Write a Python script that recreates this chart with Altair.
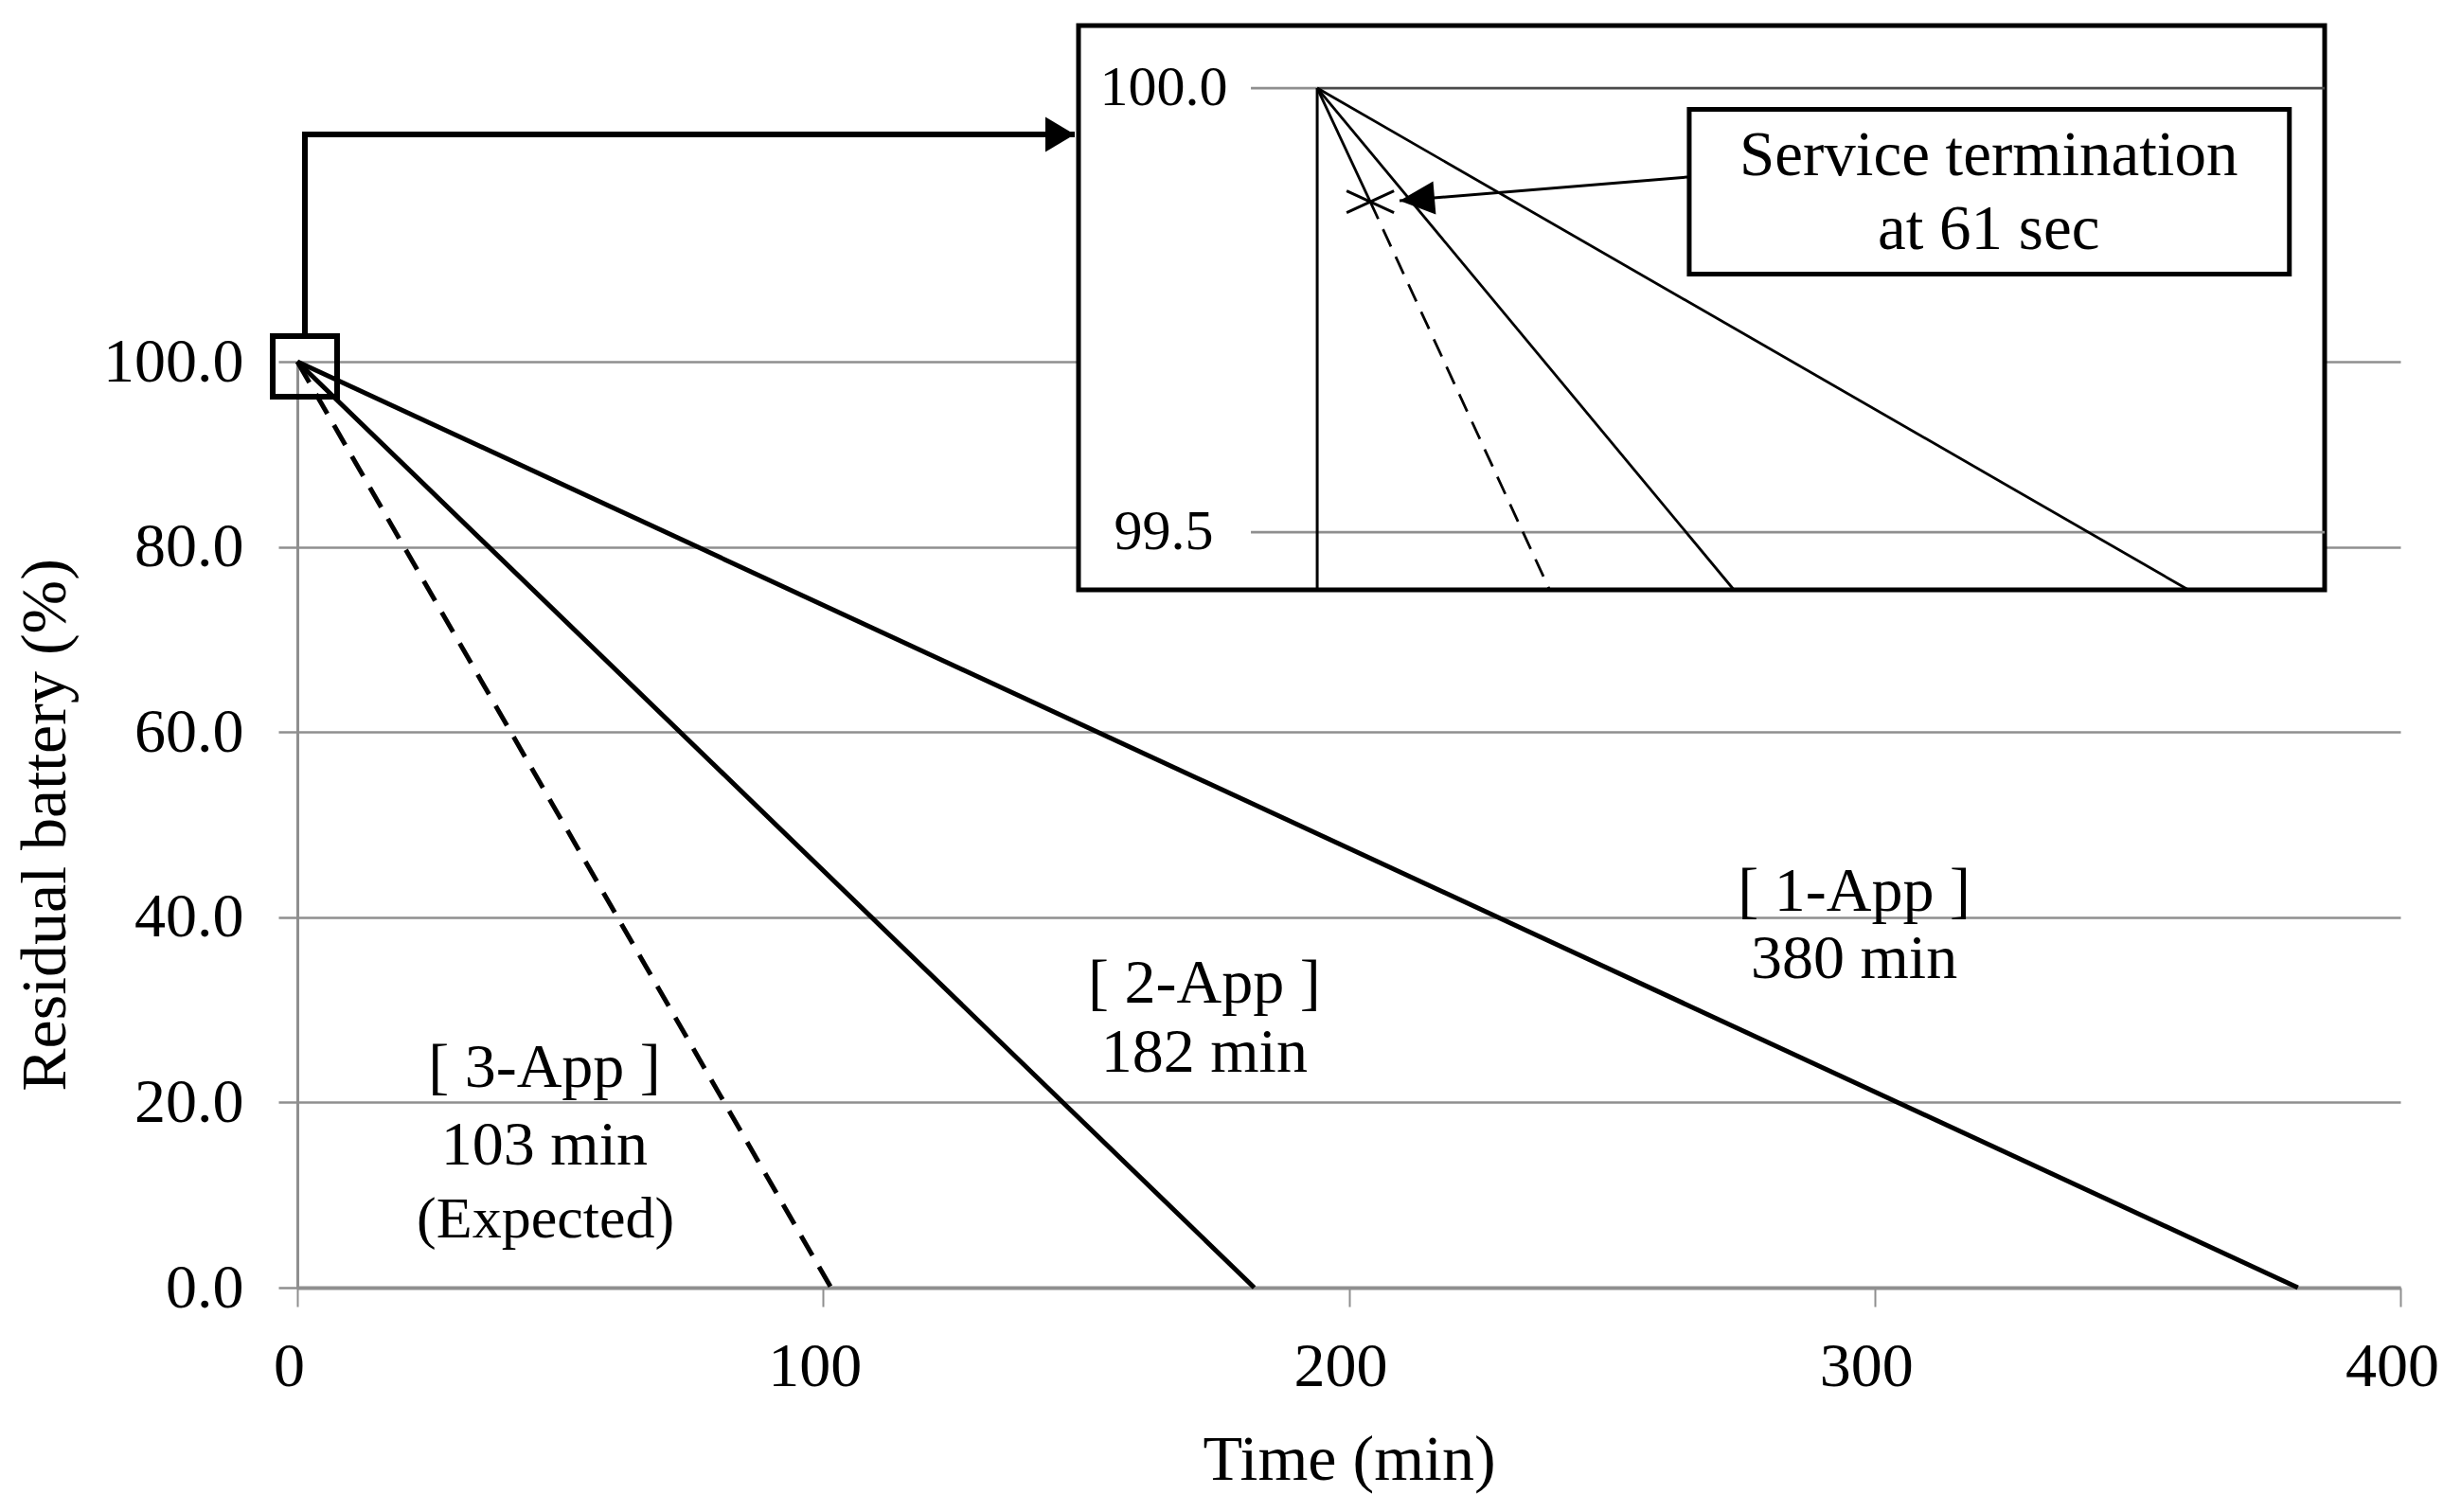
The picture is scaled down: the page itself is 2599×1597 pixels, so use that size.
import altair as alt
import pandas as pd

# ---------------- values ----------------
apps = ["1-App", "2-App", "3-App"]
start_level = 100.0                      # residual battery at t = 0 (%)
end_minutes = [380.5, 182.0, 101.5]      # time at which each curve reaches 0 %
termination_min = 0.131                  # "service termination" mark on 3-App (inset)
termination_level = 99.872
label_titles = ["[ 1-App ]", "[ 2-App ]", "[ 3-App ]"]
label_times = ["380 min", "182 min", "103 min"]
expected_text = "(Expected)"
callout_lines = ["Service termination", "at 61 sec"]
x_ticks = [0, 100, 200, 300, 400]
y_ticks = [0, 20, 40, 60, 80, 100]
inset_ticks = [100.0, 99.5]

# ---------------- layout / style (not data) ----------------
FONT = "Liberation Serif"
GRID = "#8f8f8f"
W, H = 2221, 978
MAIN_X = [0, 400]
MAIN_Y = [0, 100]
INSET_X = [-0.589, 2.486]          # inset view in minutes
INSET_Y = [99.435, 100.0704]       # inset view in %
INSET_XR = [825, 2141]             # pixel range of the inset inside the plot
INSET_YR = [241, -355]

# label anchor positions (data coordinates of the main chart)
label_pos_t = [296.1, 172.5, 47.0]
label_pos_title_v = [40.70, 30.78, 21.68]
label_pos_time_v = [33.44, 23.31, 13.29]
expected_pos = (47.2, 5.42)

# ---------------- tables ----------------
solid_rows, dashed_rows = [], []
for app, T in zip(apps, end_minutes):
    if app == "3-App":
        solid_rows += [dict(s=app, t=0.0, v=start_level),
                       dict(s=app, t=termination_min, v=termination_level)]
        dashed_rows += [dict(s=app, t=termination_min, v=termination_level),
                        dict(s=app, t=T, v=0.0)]
    else:
        solid_rows += [dict(s=app, t=0.0, v=start_level), dict(s=app, t=T, v=0.0)]
main_solid = pd.DataFrame(solid_rows)
main_dashed = pd.DataFrame(dashed_rows)

# inset lines: same series, cut where they leave the inset window
yb = INSET_Y[0]
ins_solid_rows, ins_dashed_rows = [], []
for app, T in zip(apps, end_minutes):
    t_cut = T * (start_level - yb) / start_level
    if app == "3-App":
        ins_solid_rows += [dict(s=app, t=0.0, v=start_level),
                           dict(s=app, t=termination_min, v=termination_level)]
        ins_dashed_rows += [dict(s=app, t=termination_min, v=termination_level),
                            dict(s=app, t=t_cut, v=yb)]
    else:
        ins_solid_rows += [dict(s=app, t=0.0, v=start_level), dict(s=app, t=t_cut, v=yb)]
ins_solid = pd.DataFrame(ins_solid_rows)
ins_dashed = pd.DataFrame(ins_dashed_rows)

labels_big = pd.DataFrame(
    [dict(text=label_titles[i], t=label_pos_t[i], v=label_pos_title_v[i]) for i in range(3)] +
    [dict(text=label_times[i], t=label_pos_t[i], v=label_pos_time_v[i]) for i in range(3)])
labels_small = pd.DataFrame([dict(text=expected_text, t=expected_pos[0], v=expected_pos[1])])

# ---------------- encodings ----------------
x_axis = alt.Axis(values=x_ticks, format="d", title="Time (min)", labelFont=FONT,
                  labelFontSize=66, labelColor="black", labelPadding=31, labelOffset=-9,
                  labelFlush=False, tickSize=20, tickColor=GRID, tickWidth=2,
                  domainColor=GRID, domainWidth=4, grid=False, titleFont=FONT,
                  titleFontSize=68, titleFontWeight="normal", titleColor="black",
                  titleBaseline="alphabetic", titleX=W / 2, titleY=202)
y_axis = alt.Axis(values=y_ticks, format=".1f", title="Residual battery (%)", labelFont=FONT,
                  labelFontSize=66, labelColor="black", labelPadding=37, labelFlush=False,
                  tickSize=20, tickColor=GRID, tickWidth=2.5, domainColor=GRID,
                  domainWidth=3, grid=True, gridColor=GRID, gridWidth=2.5,
                  titleFont=FONT, titleFontSize=68, titleFontWeight="normal",
                  titleColor="black", titleAngle=270, titleAlign="center",
                  titleBaseline="alphabetic", titleX=-246, titleY=H / 2)
mxs = alt.Scale(domain=MAIN_X, nice=False, zero=False)
mys = alt.Scale(domain=MAIN_Y, nice=False, zero=False)


def MX(f="t"):
    return alt.X(f"{f}:Q", scale=mxs, axis=x_axis)


def MY(f="v"):
    return alt.Y(f"{f}:Q", scale=mys, axis=y_axis)


ixs = alt.Scale(domain=INSET_X, range=INSET_XR, nice=False, zero=False)
iys = alt.Scale(domain=INSET_Y, range=INSET_YR, nice=False, zero=False)


def IX(f="t"):
    return alt.X(f"{f}:Q", scale=ixs, axis=None)


def IY(f="v"):
    return alt.Y(f"{f}:Q", scale=iys, axis=None)


# ---------------- main chart ----------------
m_lines = alt.Chart(main_solid).mark_line(color="black", strokeWidth=5).encode(
    x=MX(), y=MY(), detail="s:N")
m_dash = alt.Chart(main_dashed).mark_line(color="black", strokeWidth=5,
                                          strokeDash=[24, 14]).encode(
    x=MX(), y=MY(), detail="s:N")
m_labels = alt.Chart(labels_big).mark_text(font=FONT, fontSize=66, color="black",
                                           align="center", baseline="alphabetic").encode(
    x=MX(), y=MY(), text="text:N")
m_exp = alt.Chart(labels_small).mark_text(font=FONT, fontSize=62, color="black",
                                          align="center", baseline="alphabetic").encode(
    x=MX(), y=MY(), text="text:N")
zoom_box = pd.DataFrame([dict(t=-4.68, t2=7.56, v=96.22, v2=102.76)])
m_box = alt.Chart(zoom_box).mark_rect(fill="white", fillOpacity=0, stroke="black",
                                      strokeWidth=6).encode(
    x=MX(), x2="t2:Q", y=MY(), y2="v2:Q")
connector = pd.DataFrame([dict(i=0, t=1.44, v=102.76), dict(i=1, t=1.44, v=124.54),
                          dict(i=2, t=147.86, v=124.54)])
m_conn = alt.Chart(connector).mark_line(color="black", strokeWidth=6,
                                        strokeJoin="miter").encode(
    x=MX(), y=MY(), order="i:O")
m_head = alt.Chart(connector.iloc[[2]]).mark_point(
    shape="M0,0L-2,-1.19L-2,1.19Z", size=961, filled=True, color="black", opacity=1).encode(
    x=MX(), y=MY())

main = alt.layer(m_lines, m_dash, m_labels, m_exp, m_box, m_conn, m_head)

# ---------------- inset ----------------
inset_frame = pd.DataFrame([dict(t=INSET_X[0], t2=INSET_X[1], v=INSET_Y[0], v2=INSET_Y[1])])
i_box = alt.Chart(inset_frame).mark_rect(fill="white", stroke="black", strokeWidth=5).encode(
    x=IX(), x2="t2:Q", y=IY(), y2="v2:Q")
grid_rows = pd.DataFrame([dict(t=-0.1636, t2=0.0, v=inset_ticks[0], c=GRID),
                          dict(t=0.0, t2=INSET_X[1], v=inset_ticks[0], c="#4a4a4a"),
                          dict(t=-0.1636, t2=INSET_X[1], v=inset_ticks[1], c=GRID)])
i_grid = alt.Chart(grid_rows).mark_rule(strokeWidth=2.8).encode(
    x=IX(), x2="t2:Q", y=IY(), color=alt.Color("c:N", scale=None))
axis_line = pd.DataFrame([dict(t=0.0, v=INSET_Y[0], v2=inset_ticks[0])])
i_axis = alt.Chart(axis_line).mark_rule(color="black", strokeWidth=3).encode(
    x=IX(), y=IY(), y2="v2:Q")
tick_lab = pd.DataFrame([dict(t=-0.3785, v=v, text=f"{v:.1f}") for v in inset_ticks])
i_ticks = alt.Chart(tick_lab).mark_text(font=FONT, fontSize=60, color="black",
                                        align="center", baseline="middle").encode(
    x=IX(), y=IY(), text="text:N")
i_lines = alt.Chart(ins_solid).mark_line(color="black", strokeWidth=2.8).encode(
    x=IX(), y=IY(), detail="s:N")
i_dash = alt.Chart(ins_dashed).mark_line(color="black", strokeWidth=2.8,
                                         strokeDash=[20, 12]).encode(
    x=IX(), y=IY(), detail="s:N")
term = pd.DataFrame([dict(t=termination_min, v=termination_level)])
i_mark = alt.Chart(term).mark_point(shape="M-1,-0.46L1,0.46M-1,0.46L1,-0.46", size=2500,
                                    filled=False, color="black", strokeWidth=3,
                                    opacity=1).encode(x=IX(), y=IY())
arrow = pd.DataFrame([dict(i=0, t=0.9136, v=99.8998), dict(i=1, t=0.2033, v=99.8731)])
i_arrow = alt.Chart(arrow).mark_line(color="black", strokeWidth=3).encode(
    x=IX(), y=IY(), order="i:O")
i_arrow_head = alt.Chart(arrow.iloc[[1]]).mark_point(
    shape="M0,0L2,-0.95L2,0.95Z", size=1369, filled=True, color="black", opacity=1,
    angle=355.3).encode(x=IX(), y=IY())
callout = pd.DataFrame([dict(t=0.918, t2=2.399, v=99.7905, v2=99.976)])
i_callout = alt.Chart(callout).mark_rect(fill="white", stroke="black", strokeWidth=5).encode(
    x=IX(), x2="t2:Q", y=IY(), y2="v2:Q")
callout_txt = pd.DataFrame([dict(t=1.657, v=99.902, text=callout_lines[0]),
                            dict(t=1.657, v=99.8188, text=callout_lines[1])])
i_ctext = alt.Chart(callout_txt).mark_text(font=FONT, fontSize=67, color="black",
                                           align="center", baseline="alphabetic").encode(
    x=IX(), y=IY(), text="text:N")

inset = alt.layer(i_box, i_grid, i_axis, i_ticks, i_lines, i_dash, i_mark, i_arrow,
                  i_arrow_head, i_callout, i_ctext)

chart = alt.layer(main, inset).resolve_scale(
    x="independent", y="independent", color="independent"
).properties(
    width=W, height=H,
    autosize=alt.AutoSizeParams(type="none"),
    padding={"left": 306, "top": 374, "right": 54, "bottom": 222},
    background="white",
).configure_view(stroke=None)

chart.save("out.html", embed_options={"renderer": "svg", "actions": False})
